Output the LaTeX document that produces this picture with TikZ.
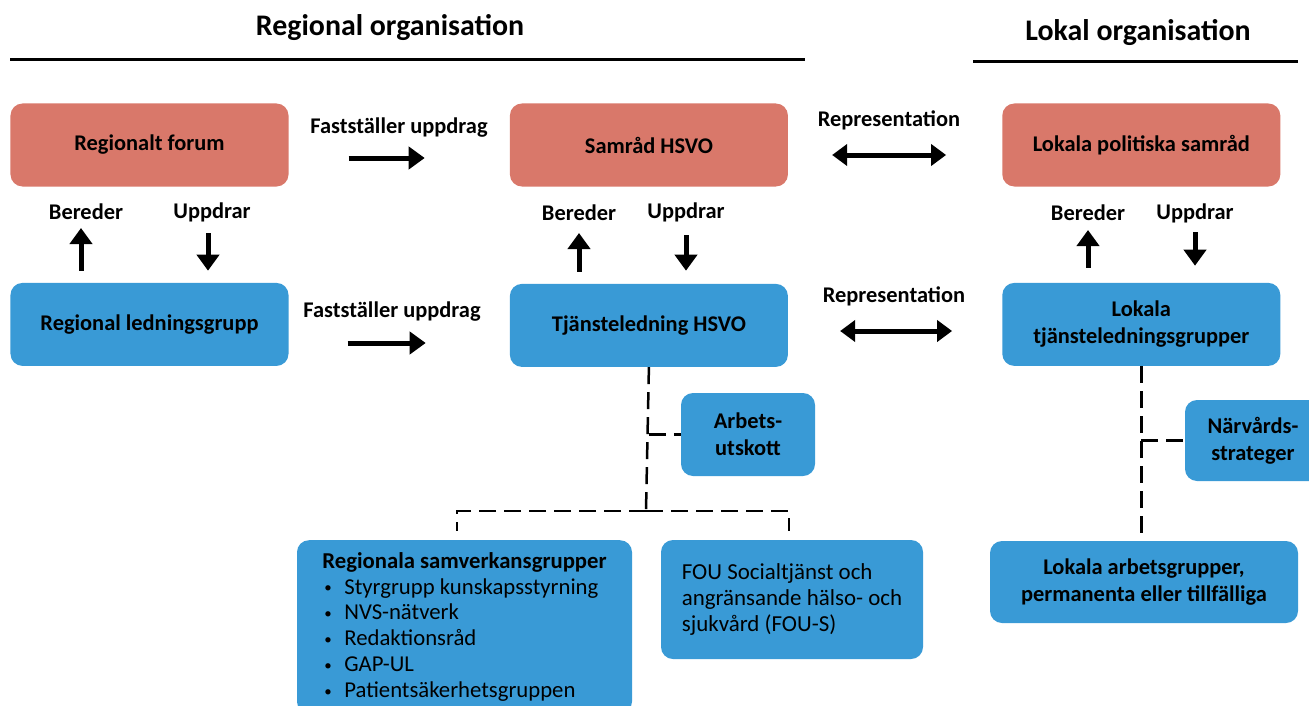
\documentclass[tikz,border=0pt]{standalone}
\usepackage{fontspec}
\setmainfont{Carlito}
\usepackage{xcolor}
\usepackage{tikz}
\usetikzlibrary{arrows.meta,positioning}

\definecolor{orgred}{RGB}{217,120,106}
\definecolor{orgblue}{RGB}{57,154,214}

\newcommand{\orgitem}{\hspace*{2bp}\makebox[20bp][l]{\raisebox{1.5bp}{\fontsize{15}{15}\selectfont •}}}

\tikzset{
  orgbox/.style={rounded corners=12bp, minimum width=278bp, minimum height=83bp,
    align=center, inner sep=4bp, font=\bfseries\fontsize{22.5}{27}\selectfont},
  redbox/.style={orgbox, fill=orgred},
  bluebox/.style={orgbox, fill=orgblue},
  lbl/.style={inner sep=1bp, font=\bfseries\fontsize{22.5}{26}\selectfont},
  head/.style={inner sep=1bp, font=\bfseries\fontsize{30}{35}\selectfont},
  fat/.style={line width=5bp, -{Triangle[width=22bp,length=16bp]}},
  fatboth/.style={line width=5bp, {Triangle[width=21bp,length=15bp]}-{Triangle[width=21bp,length=15bp]}},
  dashline/.style={line width=2.5bp, dash pattern=on 17bp off 8bp},
}

\begin{document}
\begin{tikzpicture}[x=1bp, y=-1bp]
  \useasboundingbox (0,0) rectangle (1309,705);
  \clip (0,0) rectangle (1309,705);

  % headings
  \node[head] (hreg) at (390,28) {Regional organisation};
  \node[head] (hlok) at (1138,33) {Lokal organisation};
  \draw[line width=3bp] (10,60) -- (805,60);
  \draw[line width=3bp] (973,62) -- (1298,62);

  % boxes
  \node[redbox] (forum) at (149.5,145) {Regionalt forum};
  \node[redbox, right=221bp of forum] (samrad) {Samråd HSVO};
  \node[redbox, right=214bp of samrad] (lokpol) {Lokala politiska samråd};
  \node[bluebox, below=96bp of forum] (regled) {Regional ledningsgrupp};
  \node[bluebox, below=97bp of samrad] (tjled) {Tjänsteledning HSVO};
  \node[bluebox, below=96bp of lokpol] (loktj) {Lokala\\tjänsteledningsgrupper};

  \node[bluebox, minimum width=134bp] (arbut) at (748,434.5) {Arbets-\\utskott};
  \node[bluebox, minimum width=136bp, minimum height=81bp] (narv) at (1253,440.5) {Närvårds-\\strateger};
  \node[bluebox, minimum width=308bp, minimum height=82bp] (lokarb) at (1144,582)
    {Lokala arbetsgrupper,\\permanenta eller tillfälliga};
  \node[bluebox, minimum width=262bp, minimum height=119bp, align=left,
    font=\fontsize{23}{26.5}\selectfont] (fou) at (792,599.5)
    {FOU Socialtjänst och\\angränsande hälso- och\\sjukvård (FOU-S)};
  \node[bluebox, anchor=north, minimum width=335bp, align=left, inner ysep=12bp,
    font=\fontsize{22.8}{26}\selectfont] (samv) at (464.5,540)
    {\textbf{Regionala samverkansgrupper}\\
     \orgitem Styrgrupp kunskapsstyrning\\
     \orgitem NVS-nätverk\\
     \orgitem Redaktionsråd\\
     \orgitem GAP-UL\\
     \orgitem Patientsäkerhetsgruppen};

  % horizontal relations
  \node[lbl] (fast1) at (399,128) {Fastställer uppdrag};
  \node[lbl] (fast2) at (392,312) {Fastställer uppdrag};
  \node[lbl] (rep1) at (889,120) {Representation};
  \node[lbl] (rep2) at (894,296) {Representation};
  \coordinate (f1) at (348,158);
  \coordinate (f2) at (347,343);
  \coordinate (r1) at (831,155);
  \coordinate (r2) at (838,331);
  \draw[fat, shorten <=60bp, shorten >=85bp] (forum.east |- f1) -- (samrad.west |- f1);
  \draw[fat, shorten <=59bp, shorten >=84bp] (regled.east |- f2) -- (tjled.west |- f2);
  \draw[fatboth, shorten <=44bp, shorten >=56bp] (samrad.east |- r1) -- (lokpol.west |- r1);
  \draw[fatboth, shorten <=52bp, shorten >=50bp] (tjled.east |- r2) -- (loktj.west |- r2);

  % vertical relations
  \node[lbl] (ber1) at (86,212) {Bereder};
  \node[lbl] (upp1) at (212,212) {Uppdrar};
  \node[lbl] (ber2) at (579,213) {Bereder};
  \node[lbl] (upp2) at (686,212) {Uppdrar};
  \node[lbl] (ber3) at (1088,213) {Bereder};
  \node[lbl] (upp3) at (1195,213) {Uppdrar};
  \coordinate (b1) at (81,228);
  \coordinate (u1) at (208,233);
  \coordinate (b2) at (579,233);
  \coordinate (u2) at (686,235);
  \coordinate (b3) at (1088,230);
  \coordinate (u3) at (1195,232);
  \draw[fat, shorten <=12bp] (b1 |- regled.north) -- (b1);
  \draw[fat, shorten >=12bp] (u1) -- (u1 |- regled.north);
  \draw[fat, shorten <=12bp] (b2 |- tjled.north) -- (b2);
  \draw[fat, shorten >=13bp] (u2) -- (u2 |- tjled.north);
  \draw[fat, shorten <=15bp] (b3 |- loktj.north) -- (b3);
  \draw[fat, shorten >=17bp] (u3) -- (u3 |- loktj.north);

  % dashed links
  \coordinate (jmid) at (646,511);
  \coordinate (sl) at (457,531);
  \coordinate (fl) at (789,531);
  \draw[dashline] (tjled.south) -- (jmid);
  \draw[dashline] (tjled.south |- arbut.west) -- (arbut.west);
  \draw[dashline] (jmid) -| (sl);
  \draw[dashline] (jmid) -| (fl);
  \draw[dashline] (loktj.south) -- (loktj.south |- lokarb.north);
  \draw[dashline] (loktj.south |- narv.west) -- (narv.west);
\end{tikzpicture}
\end{document}
